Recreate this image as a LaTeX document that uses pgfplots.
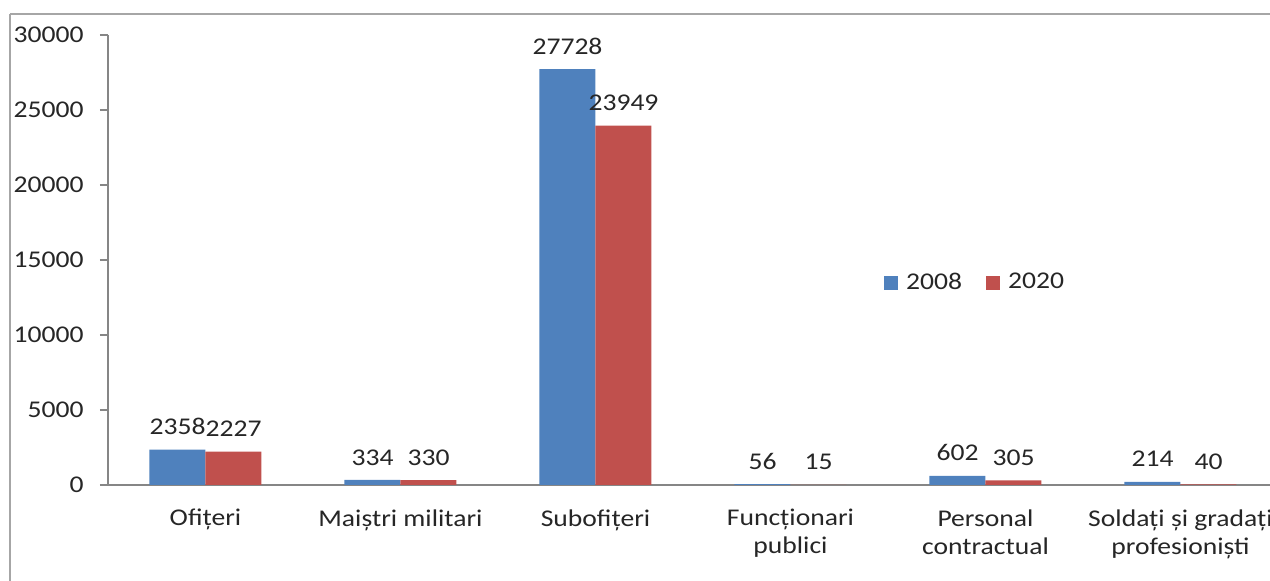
\documentclass[border=0pt]{standalone}
\usepackage{pgfplots}
\pgfplotsset{compat=1.18}
\usepackage{fontspec}
\setmainfont{Carlito}[FakeStretch=1.15]
\definecolor{cblue}{HTML}{4F81BD}
\definecolor{cred}{HTML}{C0504D}
\definecolor{axgray}{HTML}{868686}
\definecolor{txt}{HTML}{262626}
\begin{document}
\fontsize{12}{14.4}\selectfont
\begin{tikzpicture}
\begin{axis}[
  at={(54pt,48pt)}, anchor=south west,
  scale only axis, width=585pt, height=225pt,
  ybar=0pt, bar width=28pt,
  xmin=-0.5, xmax=5.5, ymin=0, ymax=30000,
  axis lines*=left,
  axis line style={axgray, line width=0.8pt},
  xtick={0,1,2,3,4,5},
  xticklabels={Ofițeri, Maiștri militari, Subofițeri, {Funcționari\\publici}, {Personal\\contractual}, {Soldați și gradați\\profesioniști}},
  xticklabel style={align=center, text=txt, font=\fontsize{12}{14}\selectfont, yshift=-4pt},
  x tick style={draw=none},
  extra x ticks={-0.5,0.5,1.5,2.5,3.5,4.5,5.5},
  extra x tick labels={},
  extra x tick style={major tick length=4pt, tick align=outside, tick style={axgray, draw=axgray, line width=0.6pt}},
  ytick={0,5000,...,30000},
  scaled y ticks=false,
  y tick style={axgray, line width=0.6pt},
  major tick length=4pt, tick align=outside,
  yticklabel style={text=txt, xshift=-4pt, /pgf/number format/fixed, /pgf/number format/precision=0},
  /pgf/number format/1000 sep={},
  /pgf/number format/assume math mode=true,
  nodes near coords,
  nodes near coords style={text=txt, anchor=south, inner sep=0pt, yshift=7.2pt, /pgf/number format/1000 sep={}},
  legend style={draw=none, fill=none, at={(0.742,0.449)}, anchor=center, legend columns=-1, text=txt,
     /tikz/every odd column/.append style={column sep=2pt},
     /tikz/every even column/.append style={column sep=10pt}},
  legend image code/.code={\fill[#1] (0pt,-3.5pt) rectangle (7pt,3.5pt);},
  clip=false,
]
\addplot[fill=cblue, draw=none] coordinates {(0,2358) (1,334) (2,27728) (3,56) (4,602) (5,214)};
\addplot[fill=cred, draw=none] coordinates {(0,2227) (1,330) (2,23949) (3,15) (4,305) (5,40)};
\legend{2008,2020}
\end{axis}
\draw[gray!70, line width=1.2pt] (5pt,283.5pt) -- (660pt,283.5pt);
\draw[gray!70, line width=1.2pt] (5pt,283.5pt) -- (5pt,-20pt);
\pgfresetboundingbox
\path[use as bounding box] (0pt,0pt) rectangle (635pt,290.5pt);
\end{tikzpicture}
\end{document}
